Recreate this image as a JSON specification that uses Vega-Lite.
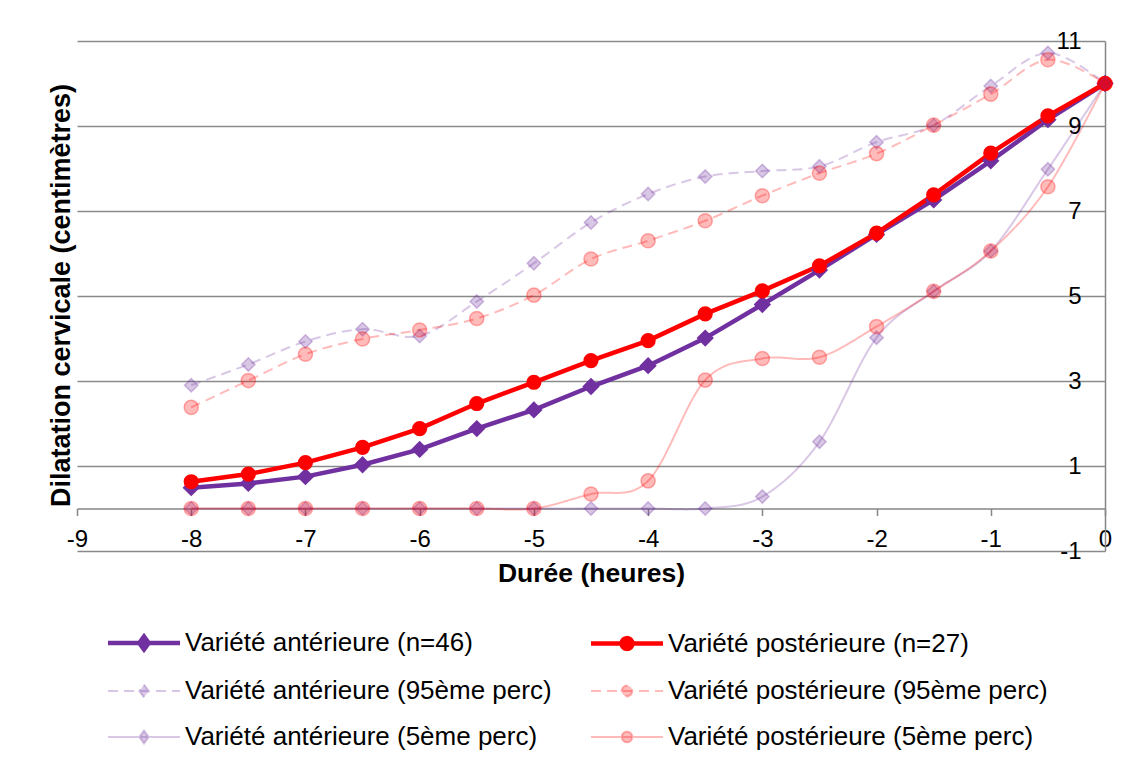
{
  "$schema": "https://vega.github.io/schema/vega-lite/v6.json",
  "width": 1028,
  "height": 510,
  "autosize": {"type": "none"},
  "padding": {"left": 77, "top": 41, "right": 25, "bottom": 209},
  "background": "white",
  "config": {
    "view": {"stroke": null},
    "font": "Liberation Sans",
    "axis": {"labelFont": "Liberation Sans", "titleFont": "Liberation Sans", "labelColor": "black", "titleColor": "black"}
  },
  "data": {"values": [
    {"x": -8, "y": 0.49, "serie": "Variété antérieure (n=46)"},
    {"x": -7.5, "y": 0.59, "serie": "Variété antérieure (n=46)"},
    {"x": -7, "y": 0.75, "serie": "Variété antérieure (n=46)"},
    {"x": -6.5, "y": 1.03, "serie": "Variété antérieure (n=46)"},
    {"x": -6, "y": 1.39, "serie": "Variété antérieure (n=46)"},
    {"x": -5.5, "y": 1.88, "serie": "Variété antérieure (n=46)"},
    {"x": -5, "y": 2.32, "serie": "Variété antérieure (n=46)"},
    {"x": -4.5, "y": 2.87, "serie": "Variété antérieure (n=46)"},
    {"x": -4, "y": 3.36, "serie": "Variété antérieure (n=46)"},
    {"x": -3.5, "y": 4.01, "serie": "Variété antérieure (n=46)"},
    {"x": -3, "y": 4.8, "serie": "Variété antérieure (n=46)"},
    {"x": -2.5, "y": 5.61, "serie": "Variété antérieure (n=46)"},
    {"x": -2, "y": 6.45, "serie": "Variété antérieure (n=46)"},
    {"x": -1.5, "y": 7.26, "serie": "Variété antérieure (n=46)"},
    {"x": -1, "y": 8.18, "serie": "Variété antérieure (n=46)"},
    {"x": -0.5, "y": 9.15, "serie": "Variété antérieure (n=46)"},
    {"x": 0, "y": 10, "serie": "Variété antérieure (n=46)"},
    {"x": -8, "y": 0.63, "serie": "Variété postérieure (n=27)"},
    {"x": -7.5, "y": 0.81, "serie": "Variété postérieure (n=27)"},
    {"x": -7, "y": 1.08, "serie": "Variété postérieure (n=27)"},
    {"x": -6.5, "y": 1.44, "serie": "Variété postérieure (n=27)"},
    {"x": -6, "y": 1.88, "serie": "Variété postérieure (n=27)"},
    {"x": -5.5, "y": 2.47, "serie": "Variété postérieure (n=27)"},
    {"x": -5, "y": 2.97, "serie": "Variété postérieure (n=27)"},
    {"x": -4.5, "y": 3.48, "serie": "Variété postérieure (n=27)"},
    {"x": -4, "y": 3.95, "serie": "Variété postérieure (n=27)"},
    {"x": -3.5, "y": 4.58, "serie": "Variété postérieure (n=27)"},
    {"x": -3, "y": 5.12, "serie": "Variété postérieure (n=27)"},
    {"x": -2.5, "y": 5.71, "serie": "Variété postérieure (n=27)"},
    {"x": -2, "y": 6.48, "serie": "Variété postérieure (n=27)"},
    {"x": -1.5, "y": 7.38, "serie": "Variété postérieure (n=27)"},
    {"x": -1, "y": 8.36, "serie": "Variété postérieure (n=27)"},
    {"x": -0.5, "y": 9.24, "serie": "Variété postérieure (n=27)"},
    {"x": 0, "y": 10, "serie": "Variété postérieure (n=27)"},
    {"x": -8, "y": 2.9, "serie": "Variété antérieure (95ème perc)"},
    {"x": -7.5, "y": 3.39, "serie": "Variété antérieure (95ème perc)"},
    {"x": -7, "y": 3.93, "serie": "Variété antérieure (95ème perc)"},
    {"x": -6.5, "y": 4.22, "serie": "Variété antérieure (95ème perc)"},
    {"x": -6, "y": 4.06, "serie": "Variété antérieure (95ème perc)"},
    {"x": -5.5, "y": 4.87, "serie": "Variété antérieure (95ème perc)"},
    {"x": -5, "y": 5.77, "serie": "Variété antérieure (95ème perc)"},
    {"x": -4.5, "y": 6.73, "serie": "Variété antérieure (95ème perc)"},
    {"x": -4, "y": 7.4, "serie": "Variété antérieure (95ème perc)"},
    {"x": -3.5, "y": 7.81, "serie": "Variété antérieure (95ème perc)"},
    {"x": -3, "y": 7.94, "serie": "Variété antérieure (95ème perc)"},
    {"x": -2.5, "y": 8.05, "serie": "Variété antérieure (95ème perc)"},
    {"x": -2, "y": 8.62, "serie": "Variété antérieure (95ème perc)"},
    {"x": -1.5, "y": 9.02, "serie": "Variété antérieure (95ème perc)"},
    {"x": -1, "y": 9.94, "serie": "Variété antérieure (95ème perc)"},
    {"x": -0.5, "y": 10.72, "serie": "Variété antérieure (95ème perc)"},
    {"x": 0, "y": 10, "serie": "Variété antérieure (95ème perc)"},
    {"x": -8, "y": 2.38, "serie": "Variété postérieure (95ème perc)"},
    {"x": -7.5, "y": 3.01, "serie": "Variété postérieure (95ème perc)"},
    {"x": -7, "y": 3.63, "serie": "Variété postérieure (95ème perc)"},
    {"x": -6.5, "y": 3.99, "serie": "Variété postérieure (95ème perc)"},
    {"x": -6, "y": 4.2, "serie": "Variété postérieure (95ème perc)"},
    {"x": -5.5, "y": 4.47, "serie": "Variété postérieure (95ème perc)"},
    {"x": -5, "y": 5.02, "serie": "Variété postérieure (95ème perc)"},
    {"x": -4.5, "y": 5.87, "serie": "Variété postérieure (95ème perc)"},
    {"x": -4, "y": 6.3, "serie": "Variété postérieure (95ème perc)"},
    {"x": -3.5, "y": 6.77, "serie": "Variété postérieure (95ème perc)"},
    {"x": -3, "y": 7.36, "serie": "Variété postérieure (95ème perc)"},
    {"x": -2.5, "y": 7.89, "serie": "Variété postérieure (95ème perc)"},
    {"x": -2, "y": 8.35, "serie": "Variété postérieure (95ème perc)"},
    {"x": -1.5, "y": 9.02, "serie": "Variété postérieure (95ème perc)"},
    {"x": -1, "y": 9.75, "serie": "Variété postérieure (95ème perc)"},
    {"x": -0.5, "y": 10.56, "serie": "Variété postérieure (95ème perc)"},
    {"x": 0, "y": 10, "serie": "Variété postérieure (95ème perc)"},
    {"x": -8, "y": 0, "serie": "Variété antérieure (5ème perc)"},
    {"x": -7.5, "y": 0, "serie": "Variété antérieure (5ème perc)"},
    {"x": -7, "y": 0, "serie": "Variété antérieure (5ème perc)"},
    {"x": -6.5, "y": 0, "serie": "Variété antérieure (5ème perc)"},
    {"x": -6, "y": 0, "serie": "Variété antérieure (5ème perc)"},
    {"x": -5.5, "y": 0, "serie": "Variété antérieure (5ème perc)"},
    {"x": -5, "y": 0, "serie": "Variété antérieure (5ème perc)"},
    {"x": -4.5, "y": 0, "serie": "Variété antérieure (5ème perc)"},
    {"x": -4, "y": 0, "serie": "Variété antérieure (5ème perc)"},
    {"x": -3.5, "y": 0, "serie": "Variété antérieure (5ème perc)"},
    {"x": -3, "y": 0.28, "serie": "Variété antérieure (5ème perc)"},
    {"x": -2.5, "y": 1.57, "serie": "Variété antérieure (5ème perc)"},
    {"x": -2, "y": 4.02, "serie": "Variété antérieure (5ème perc)"},
    {"x": -1.5, "y": 5.11, "serie": "Variété antérieure (5ème perc)"},
    {"x": -1, "y": 6.06, "serie": "Variété antérieure (5ème perc)"},
    {"x": -0.5, "y": 7.98, "serie": "Variété antérieure (5ème perc)"},
    {"x": 0, "y": 10, "serie": "Variété antérieure (5ème perc)"},
    {"x": -8, "y": 0, "serie": "Variété postérieure (5ème perc)"},
    {"x": -7.5, "y": 0, "serie": "Variété postérieure (5ème perc)"},
    {"x": -7, "y": 0, "serie": "Variété postérieure (5ème perc)"},
    {"x": -6.5, "y": 0, "serie": "Variété postérieure (5ème perc)"},
    {"x": -6, "y": 0, "serie": "Variété postérieure (5ème perc)"},
    {"x": -5.5, "y": 0, "serie": "Variété postérieure (5ème perc)"},
    {"x": -5, "y": 0, "serie": "Variété postérieure (5ème perc)"},
    {"x": -4.5, "y": 0.34, "serie": "Variété postérieure (5ème perc)"},
    {"x": -4, "y": 0.65, "serie": "Variété postérieure (5ème perc)"},
    {"x": -3.5, "y": 3.02, "serie": "Variété postérieure (5ème perc)"},
    {"x": -3, "y": 3.53, "serie": "Variété postérieure (5ème perc)"},
    {"x": -2.5, "y": 3.56, "serie": "Variété postérieure (5ème perc)"},
    {"x": -2, "y": 4.28, "serie": "Variété postérieure (5ème perc)"},
    {"x": -1.5, "y": 5.11, "serie": "Variété postérieure (5ème perc)"},
    {"x": -1, "y": 6.06, "serie": "Variété postérieure (5ème perc)"},
    {"x": -0.5, "y": 7.57, "serie": "Variété postérieure (5ème perc)"},
    {"x": 0, "y": 10, "serie": "Variété postérieure (5ème perc)"}
  ]},
  "encoding": {
    "x": {
      "field": "x", "type": "quantitative",
      "scale": {"domain": [-9, 0], "nice": false, "zero": false},
      "axis": {
        "title": "Durée (heures)",
        "values": [-9, -8, -7, -6, -5, -4, -3, -2, -1, 0],
        "labelExpr": "'' + datum.value",
        "offset": -42.5,
        "grid": false,
        "domainColor": "#868686", "domainWidth": 1.5,
        "tickColor": "#868686", "tickWidth": 1.5, "tickSize": 7,
        "labelFontSize": 24, "labelBaseline": "middle", "labelPadding": 23.5,
        "labelFlush": false, "labelOverlap": false,
        "titleFontSize": 26.5, "titleFontWeight": "bold",
        "titleY": 64.5, "titleBaseline": "middle"
      }
    },
    "y": {
      "field": "y", "type": "quantitative",
      "scale": {"domain": [-1, 11], "nice": false, "zero": false},
      "axis": {
        "orient": "right",
        "title": "Dilatation cervicale (centimètres)",
        "values": [-1, 1, 3, 5, 7, 9, 11],
        "labelExpr": "'' + datum.value",
        "grid": true, "gridColor": "#8a8a8a", "gridWidth": 1.5,
        "domainColor": "#868686", "domainWidth": 1.5,
        "ticks": false,
        "labelFontSize": 24, "labelAlign": "right", "labelBaseline": "middle", "labelPadding": -24,
        "labelFlush": false, "labelOverlap": false,
        "titleFontSize": 27, "titleFontWeight": "bold",
        "titleAngle": 270, "titleX": -1044, "titleY": 254,
        "titleAlign": "center", "titleBaseline": "middle"
      }
    },
    "color": {
      "field": "serie", "type": "nominal",
      "scale": {
        "domain": ["Variété antérieure (n=46)", "Variété postérieure (n=27)", "Variété antérieure (95ème perc)", "Variété postérieure (95ème perc)", "Variété antérieure (5ème perc)", "Variété postérieure (5ème perc)"],
        "range": ["#7030A0", "#FF0000", "rgba(112,48,160,0.27)", "rgba(255,0,0,0.27)", "rgba(112,48,160,0.27)", "rgba(255,0,0,0.27)"]
      },
      "legend": {
        "title": null,
        "orient": "none",
        "legendX": 33.5,
        "legendY": 568.5,
        "columns": 2,
        "direction": "horizontal",
        "padding": 0,
        "columnPadding": 29,
        "rowPadding": 0,
        "symbolSize": 3906,
        "symbolOpacity": 1,
        "labelOffset": 7.5,
        "labelFont": "Liberation Sans",
        "labelFontSize": 26,
        "labelColor": "black",
        "labelLimit": 600
      }
    }
  },
  "layer": [
    {
      "transform": [{"filter": "indexof(datum.serie,'n=')>=0"}],
      "mark": {"type": "line", "strokeWidth": 4.5, "interpolate": "linear"}
    },
    {
      "transform": [{"filter": "indexof(datum.serie,'n=')>=0 && indexof(datum.serie,'ant')>=0"}],
      "mark": {"type": "point", "shape": "diamond", "filled": true, "opacity": 1, "size": 300}
    },
    {
      "transform": [{"filter": "indexof(datum.serie,'n=')>=0 && indexof(datum.serie,'post')>=0"}],
      "mark": {"type": "point", "shape": "circle", "filled": true, "opacity": 1, "size": 230}
    },
    {
      "transform": [{"filter": "indexof(datum.serie,'perc')>=0"}],
      "mark": {"type": "line", "strokeWidth": 2, "interpolate": "cardinal"},
      "encoding": {
        "strokeDash": {
          "field": "serie", "type": "nominal",
          "scale": {
            "domain": ["Variété antérieure (n=46)", "Variété postérieure (n=27)", "Variété antérieure (95ème perc)", "Variété postérieure (95ème perc)", "Variété antérieure (5ème perc)", "Variété postérieure (5ème perc)"],
            "range": [[1, 0], [1, 0], [10, 6], [10, 6], [1, 0], [1, 0]]
          },
          "legend": null
        }
      }
    },
    {
      "transform": [{"filter": "indexof(datum.serie,'perc')>=0 && indexof(datum.serie,'ant')>=0"}],
      "mark": {"type": "point", "shape": "diamond", "filled": true, "opacity": 1, "size": 180, "stroke": "#7030A0", "strokeOpacity": 0.3, "strokeWidth": 1.5}
    },
    {
      "transform": [{"filter": "indexof(datum.serie,'perc')>=0 && indexof(datum.serie,'post')>=0"}],
      "mark": {"type": "point", "shape": "circle", "filled": true, "opacity": 1, "size": 200, "stroke": "#FF0000", "strokeOpacity": 0.3, "strokeWidth": 1.5}
    },
    {
      "transform": [{"filter": "false"}],
      "mark": {"type": "point", "filled": true, "opacity": 1},
      "encoding": {
        "shape": {
          "field": "serie", "type": "nominal",
          "scale": {
            "domain": ["Variété antérieure (n=46)", "Variété postérieure (n=27)", "Variété antérieure (95ème perc)", "Variété postérieure (95ème perc)", "Variété antérieure (5ème perc)", "Variété postérieure (5ème perc)"],
            "range": [
              "M-1.152,0L1.152,0M0,-0.207L0.15,0L0,0.207L-0.15,0Z",
              "M-1.152,0L1.152,0M0.1728,0L0.1597,0.0661L0.1222,0.1222L0.0661,0.1597L0,0.1728L-0.0661,0.1597L-0.1222,0.1222L-0.1597,0.0661L-0.1728,0L-0.1597,-0.0661L-0.1222,-0.1222L-0.0661,-0.1597L0,-0.1728L0.0661,-0.1597L0.1222,-0.1222L0.1597,-0.0661Z",
              "M-1.152,0L1.152,0M0,-0.207L0.15,0L0,0.207L-0.15,0Z",
              "M-1.152,0L1.152,0M0.1728,0L0.1597,0.0661L0.1222,0.1222L0.0661,0.1597L0,0.1728L-0.0661,0.1597L-0.1222,0.1222L-0.1597,0.0661L-0.1728,0L-0.1597,-0.0661L-0.1222,-0.1222L-0.0661,-0.1597L0,-0.1728L0.0661,-0.1597L0.1222,-0.1222L0.1597,-0.0661Z",
              "M-1.152,0L1.152,0M0,-0.207L0.15,0L0,0.207L-0.15,0Z",
              "M-1.152,0L1.152,0M0.1728,0L0.1597,0.0661L0.1222,0.1222L0.0661,0.1597L0,0.1728L-0.0661,0.1597L-0.1222,0.1222L-0.1597,0.0661L-0.1728,0L-0.1597,-0.0661L-0.1222,-0.1222L-0.0661,-0.1597L0,-0.1728L0.0661,-0.1597L0.1222,-0.1222L0.1597,-0.0661Z"
            ]
          },
          "legend": {"title": null}
        },
        "strokeDash": {
          "field": "serie", "type": "nominal",
          "legend": {"title": null}
        },
        "strokeWidth": {
          "field": "serie", "type": "ordinal",
          "scale": {
            "type": "ordinal",
            "domain": ["Variété antérieure (n=46)", "Variété postérieure (n=27)", "Variété antérieure (95ème perc)", "Variété postérieure (95ème perc)", "Variété antérieure (5ème perc)", "Variété postérieure (5ème perc)"],
            "range": [4.5, 4.5, 2, 2, 2, 2]
          },
          "legend": {"title": null}
        }
      }
    }
  ]
}
